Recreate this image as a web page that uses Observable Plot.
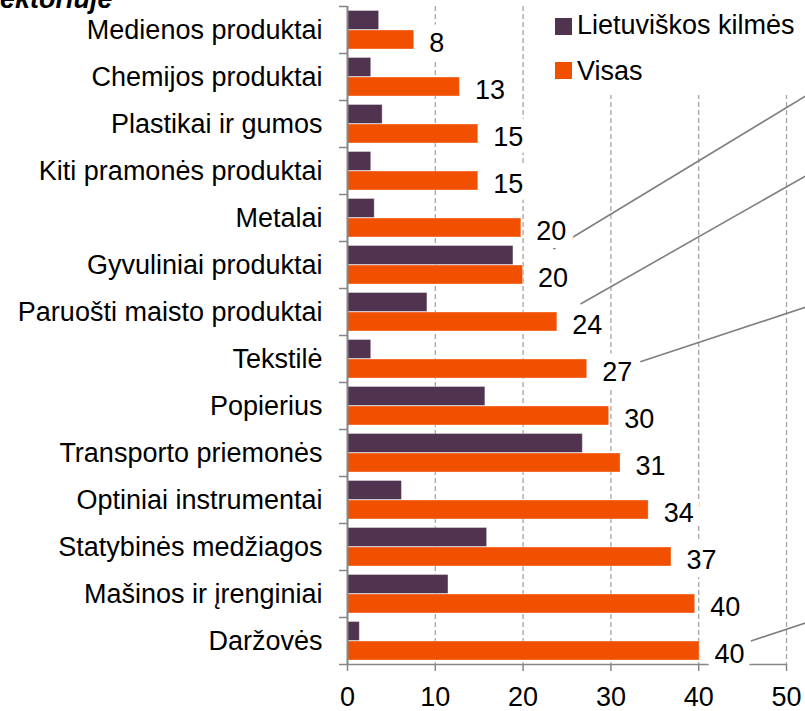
<!DOCTYPE html>
<html>
<head>
<meta charset="utf-8">
<script src="https://cdn.jsdelivr.net/npm/d3@7"></script>
<script src="https://cdn.jsdelivr.net/npm/@observablehq/plot@0.6"></script>
<style>
  html, body { margin: 0; padding: 0; background: white; }
  #wrap { position: relative; width: 805px; height: 711px; overflow: hidden; background: white; font-family: "Liberation Sans", Arial, sans-serif; color: black; }
  #title { position: absolute; left: 0; top: -14px; font-size: 27px; line-height: 27px; font-weight: bold; font-style: italic; white-space: nowrap; }
  #legend { position: absolute; left: 545px; top: 0; width: 260px; height: 95px; background: white; }
  .sw { position: absolute; left: 10px; width: 17px; height: 17px; }
  .lt { position: absolute; left: 32px; font-size: 27px; line-height: 27px; white-space: nowrap; }
</style>
</head>
<body>
<div id="wrap">
  <div id="chart"></div>
  <div id="title">ektoriuje</div>
  <div id="legend"></div>
</div>
<script>
// ---- data ----
const categories = [
  "Medienos produktai", "Chemijos produktai", "Plastikai ir gumos", "Kiti pramonės produktai",
  "Metalai", "Gyvuliniai produktai", "Paruošti maisto produktai", "Tekstilė", "Popierius",
  "Transporto priemonės", "Optiniai instrumentai", "Statybinės medžiagos", "Mašinos ir įrenginiai", "Daržovės"
];
const lietuviskos = [3.6, 2.7, 4.0, 2.7, 3.1, 18.9, 9.1, 2.7, 15.7, 26.8, 6.2, 15.9, 11.5, 1.4];
const visas = [7.6, 12.8, 14.9, 14.9, 19.8, 20.0, 23.9, 27.3, 29.8, 31.1, 34.3, 36.9, 39.6, 40.1];
const visasLabels = ["8", "13", "15", "15", "20", "20", "24", "27", "30", "31", "34", "37", "40", "40"];
const seriesNames = ["Lietuviškos kilmės", "Visas"];
const seriesColors = ["#50334F", "#F05000"];
const xTicks = [0, 10, 20, 30, 40, 50];
const gridTicks = [10, 20, 30, 40, 50];
// leader lines (x in value units, y in category-band units)
const leaderX1 = [23.5, 26.6, 33.4, 46.0];
const leaderY1 = [5.17, 6.34, 7.57, 13.51];
const leaderX2 = [52.2, 52.2, 52.2, 52.2];
const leaderY2 = [1.92, 3.62, 6.41, 13.13];

const rows = categories.map((c, i) => ({category: c, lit: lietuviskos[i], visas: visas[i], label: visasLabels[i]}));

const W = 805, H = 711, mT = 6, mB = 47, mL = 347, mR = 19;
const step = (H - mT - mB) / categories.length;
const axisColor = "#868686";
const font = "'Liberation Sans', Arial, sans-serif";

const leaders = (index, scales) => {
  const g = d3.create("svg:g");
  const y0 = scales.y(categories[0]);
  const st = scales.y(categories[1]) - y0;
  leaderX1.forEach((_, i) => {
    g.append("line")
      .attr("x1", scales.x(leaderX1[i])).attr("y1", y0 + leaderY1[i] * st)
      .attr("x2", scales.x(leaderX2[i])).attr("y2", y0 + leaderY2[i] * st)
      .attr("stroke", "#7f7f7f").attr("stroke-width", 1.6);
  });
  return g.node();
};

const chart = Plot.plot({
  width: W, height: H,
  marginTop: mT, marginBottom: mB, marginLeft: mL, marginRight: mR,
  style: {fontFamily: font, fontSize: "27px", color: "black", background: "white", overflow: "hidden"},
  x: {domain: [0, 50], axis: null, label: null},
  y: {domain: categories, padding: 0, axis: null, label: null},
  marks: [
    Plot.ruleX(gridTicks, {stroke: "#A6A6A6", strokeWidth: 1.3, strokeDasharray: "5,3"}),
    Plot.barX(rows, {x: "lit", y: "category", fill: seriesColors[0], insetTop: 4.5, insetBottom: 23.5, stroke: "white", strokeOpacity: 0.35, strokeWidth: 1}),
    Plot.barX(rows, {x: "visas", y: "category", fill: seriesColors[1], insetTop: 24, insetBottom: 4, stroke: "white", strokeOpacity: 0.35, strokeWidth: 1}),
    Plot.ruleX([0], {stroke: axisColor, strokeWidth: 2}),
    Plot.ruleY(categories, {x1: 0, x2: 0, insetLeft: -8, dy: -step / 2, stroke: axisColor, strokeWidth: 1.5}),
    Plot.ruleY([categories[categories.length - 1]], {x1: 0, x2: 50, insetLeft: -8, dy: step / 2, stroke: axisColor, strokeWidth: 1.5}),
    Plot.axisX({ticks: xTicks, tickSize: 7, tickPadding: 15, fontSize: 27, stroke: axisColor, fill: "black", label: null, strokeWidth: 1.5}),
    Plot.axisY({tickSize: 0, tickPadding: 25, fontSize: 27, fill: "black", label: null}),
    leaders,
    Plot.text(rows, {x: "visas", y: "category", text: "label", dx: 15, dy: 13, textAnchor: "start", fontSize: 27, fill: "black", stroke: "white", strokeWidth: 17, strokeLinejoin: "round"})
  ]
});
document.getElementById("chart").appendChild(chart);

// legend (HTML overlay)
const legend = d3.select("#legend");
const legendTops = [18, 62];
const textTops = [12, 58];
seriesNames.forEach((name, i) => {
  legend.append("div").attr("class", "sw").style("top", legendTops[i] + "px").style("background", seriesColors[i]);
  legend.append("div").attr("class", "lt").style("top", textTops[i] + "px").text(name);
});
</script>
</body>
</html>
